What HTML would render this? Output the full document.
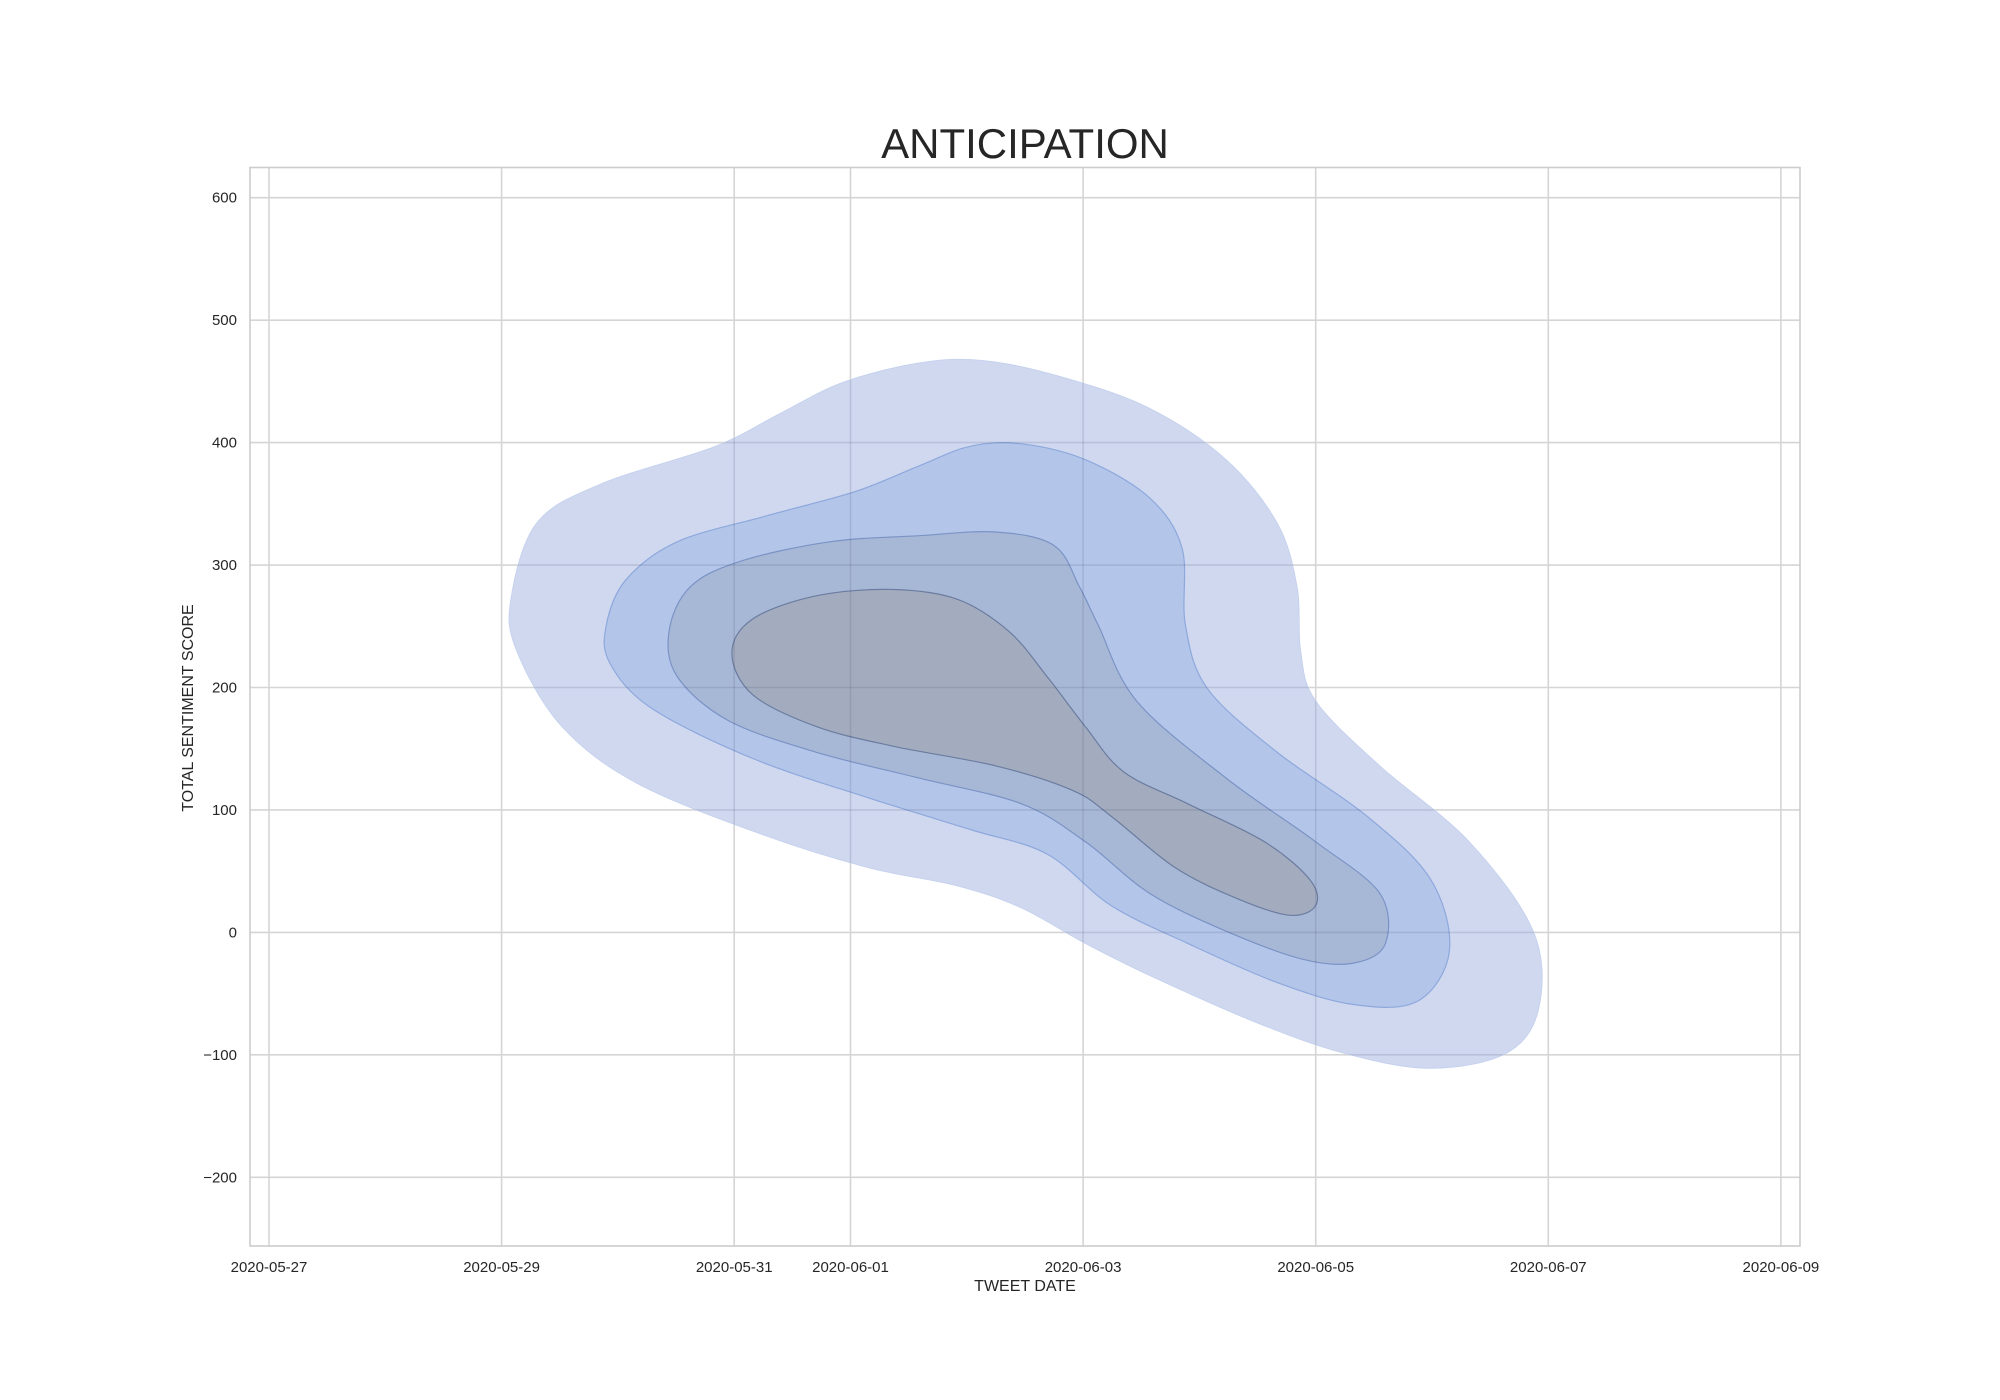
<!DOCTYPE html>
<html><head><meta charset="utf-8"><style>
html,body{margin:0;padding:0;background:#fff;}
svg{display:block;font-family:"Liberation Sans",Arial,sans-serif;}
</style></head><body>
<svg id="chart" width="2000" height="1400" viewBox="0 0 2000 1400" xmlns="http://www.w3.org/2000/svg">
<rect width="2000" height="1400" fill="#fff"/>
<defs><clipPath id="kdeclip"><path id="clippath" d=""/></clipPath></defs>
<g id="grid"></g>
<g id="contours"></g>
<g id="gridover" clip-path="url(#kdeclip)"></g>
<rect x="250" y="167.5" width="1550" height="1078.5" fill="none" stroke="#cccccc" stroke-width="1.6"/>
<g id="ticks"></g>
<text x="1025" y="158" text-anchor="middle" font-size="42" fill="#262626">ANTICIPATION</text>
<text x="1025" y="1291" text-anchor="middle" font-size="16" fill="#262626">TWEET DATE</text>
<text transform="translate(193,708) rotate(-90)" text-anchor="middle" font-size="16" fill="#262626">TOTAL SENTIMENT SCORE</text>
</svg>
<script>
// x values: days since 2020-05-27
const xTickDays = [0, 2, 4, 5, 7, 9, 11, 13];
const xTickLabels = ["2020-05-27","2020-05-29","2020-05-31","2020-06-01","2020-06-03","2020-06-05","2020-06-07","2020-06-09"];
const yTicks = [-200, -100, 0, 100, 200, 300, 400, 500, 600];
const level1 = [[2.08,272],[2.30,334],[2.85,366],[3.84,397],[4.38,423],[4.93,449],[5.59,465],[6.14,467],[6.80,454],[7.57,428],[8.23,386],[8.67,334],[8.84,282],[8.87,230],[9.00,189],[9.55,136],[10.32,74],[10.87,1],[10.92,-61],[10.65,-98],[9.99,-111],[9.22,-98],[8.45,-72],[7.57,-35],[7.02,-9],[6.47,20],[5.92,38],[5.15,53],[4.27,79],[3.18,121],[2.52,168],[2.13,230]];
const level2 = [[2.90,251],[3.07,288],[3.51,319],[4.27,340],[5.04,360],[5.59,381],[6.03,397],[6.47,399],[7.02,386],[7.57,355],[7.85,314],[7.88,251],[8.07,199],[8.67,147],[9.44,95],[9.99,43],[10.15,-15],[9.88,-56],[9.33,-59],[8.67,-41],[7.90,-9],[7.24,22],[6.69,64],[6.03,84],[5.15,110],[4.16,142],[3.29,183],[2.93,220]];
const level3 = [[3.44,246],[3.62,282],[4.05,303],[4.82,319],[5.59,324],[6.25,327],[6.75,316],[6.97,282],[7.13,251],[7.46,189],[8.23,126],[9.00,74],[9.55,32],[9.60,-9],[9.33,-25],[8.89,-22],[8.23,1],[7.57,32],[7.02,74],[6.47,105],[5.59,126],[4.71,147],[3.95,173],[3.51,209]];
const level4 = [[3.98,228],[4.16,256],[4.71,275],[5.37,280],[5.92,272],[6.36,246],[6.69,209],[7.02,168],[7.35,131],[7.90,105],[8.56,74],[8.95,43],[9.00,22],[8.78,14],[8.34,27],[7.79,53],[7.24,95],[6.91,116],[6.25,136],[5.37,152],[4.71,168],[4.16,194]];

const NS = "http://www.w3.org/2000/svg";
const L = 250, R = 1800, T = 167.5, B = 1246;
function xs(d){ return 269 + d * 116.3; }
function ys(v){ return 932.4 - v * 1.2245; }
function mk(tag, attrs, parent){ const e = document.createElementNS(NS, tag); for (const k in attrs) e.setAttribute(k, attrs[k]); parent.appendChild(e); return e; }

const grid = document.getElementById('grid');
const gridOver = document.getElementById('gridover');
const ticks = document.getElementById('ticks');
xTickDays.forEach((d, i) => {
  const x = xs(d);
  const g = mk('line', {x1:x, x2:x, y1:T, y2:B, stroke:'#d5d5d5', 'stroke-width':1.6}, grid);
  
  
  const g2 = mk('line', {x1:x, x2:x, y1:T, y2:B, stroke:'rgba(60,70,100,0.15)', 'stroke-width':1.6}, gridOver);
  
  
  const t = mk('text', {x:x, y:1272, 'text-anchor':'middle', 'font-size':15, fill:'#262626'}, ticks);
  t.textContent = xTickLabels[i];
  
  
});
yTicks.forEach(v => {
  const y = ys(v);
  const g = mk('line', {x1:L, x2:R, y1:y, y2:y, stroke:'#d5d5d5', 'stroke-width':1.6}, grid);
  
  
  const g2 = mk('line', {x1:L, x2:R, y1:y, y2:y, stroke:'rgba(60,70,100,0.15)', 'stroke-width':1.6}, gridOver);
  
  
  const t = mk('text', {x:237, y:y+5, 'text-anchor':'end', 'font-size':15, fill:'#262626'}, ticks);
  t.textContent = v < 0 ? '\u2212' + Math.abs(v) : String(v);
  
  
});

function smoothPath(data){
  const p = data.map(d => [xs(d[0]), ys(d[1])]);
  const n = p.length;
  let s = 'M' + p[0][0].toFixed(1) + ',' + p[0][1].toFixed(1);
  for (let i = 0; i < n; i++){
    const p0 = p[(i-1+n)%n], p1 = p[i], p2 = p[(i+1)%n], p3 = p[(i+2)%n];
    const c1 = [p1[0] + (p2[0]-p0[0])/6, p1[1] + (p2[1]-p0[1])/6];
    const c2 = [p2[0] - (p3[0]-p1[0])/6, p2[1] - (p3[1]-p1[1])/6];
    s += 'C' + c1.map(v=>v.toFixed(1)).join(',') + ' ' + c2.map(v=>v.toFixed(1)).join(',') + ' ' + p2.map(v=>v.toFixed(1)).join(',');
  }
  return s + 'Z';
}
document.getElementById('clippath').setAttribute('d', smoothPath(level1));
const cg = document.getElementById('contours');
const c1 = mk('path', {d:smoothPath(level1), fill:'#cfd8ef', stroke:'#c6d2ee', 'stroke-width':1}, cg);


const c2 = mk('path', {d:smoothPath(level2), fill:'#b3c6ea', stroke:'#8ea8dc', 'stroke-width':1.2}, cg);


const c3 = mk('path', {d:smoothPath(level3), fill:'#a7b8d6', stroke:'#7b93c4', 'stroke-width':1.2}, cg);


const c4 = mk('path', {d:smoothPath(level4), fill:'#a3acbf', stroke:'#6b7ca0', 'stroke-width':1.2}, cg);


</script>
</body></html>
